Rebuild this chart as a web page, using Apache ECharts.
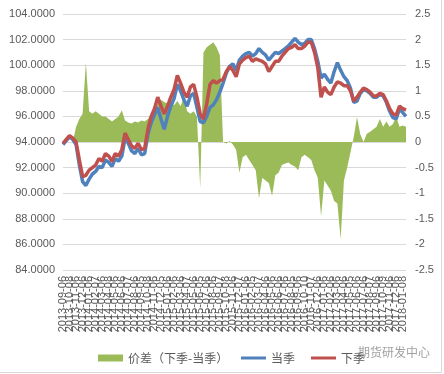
<!DOCTYPE html>
<html>
<head>
<meta charset="utf-8">
<script src="https://cdn.jsdelivr.net/npm/echarts@6/dist/echarts.min.js"></script>
<style>html,body{margin:0;padding:0;background:#fff}#c{width:444px;height:374px}</style>
</head>
<body>
<div id="c"></div>
<script>
const dates = [
"2013-09-06","2013-09-20","2013-10-08","2013-10-22","2013-11-06","2013-11-20","2013-12-06","2013-12-20",
"2014-01-06","2014-01-20","2014-02-07","2014-02-20","2014-03-06","2014-03-20","2014-04-08","2014-04-22",
"2014-05-06","2014-05-20","2014-06-06","2014-06-20","2014-07-07","2014-07-21","2014-08-06","2014-08-20",
"2014-09-05","2014-09-19","2014-10-08","2014-10-22","2014-11-06","2014-11-20","2014-12-05","2014-12-19",
"2015-01-06","2015-01-20","2015-02-06","2015-02-20","2015-03-06","2015-03-20","2015-04-07","2015-04-21",
"2015-05-06","2015-05-20","2015-06-05","2015-06-19","2015-07-06","2015-07-20","2015-08-06","2015-08-20",
"2015-09-07","2015-09-21","2015-10-08","2015-10-22","2015-11-06","2015-11-20","2015-12-07","2015-12-21",
"2016-01-06","2016-01-20","2016-02-05","2016-02-22","2016-03-07","2016-03-21","2016-04-06","2016-04-20",
"2016-05-06","2016-05-20","2016-06-06","2016-06-20","2016-07-06","2016-07-20","2016-08-05","2016-08-19",
"2016-09-06","2016-09-20","2016-10-10","2016-10-24","2016-11-07","2016-11-21","2016-12-06","2016-12-20",
"2017-01-06","2017-01-20","2017-02-06","2017-02-20","2017-03-06","2017-03-20","2017-04-06","2017-04-20",
"2017-05-05","2017-05-19","2017-06-06","2017-06-20","2017-07-06","2017-07-20","2017-08-07","2017-08-21",
"2017-09-06","2017-09-20","2017-10-09","2017-10-23","2017-11-06","2017-11-20","2017-12-06","2017-12-20",
"2018-01-08","2018-01-22"
];
const current = [
93.8,94.1,94.4,94.2,93.8,92.2,90.9,90.6,91.1,91.5,91.7,92.1,92.0,92.6,92.4,92.1,
92.7,92.5,92.9,94.3,93.9,93.3,93.1,93.5,93.0,93.1,94.6,95.5,96.1,96.7,95.8,95.0,
96.0,96.8,97.4,98.5,98.0,97.3,96.8,97.6,97.8,96.7,95.6,95.5,96.0,96.7,96.9,97.3,
97.9,98.6,99.4,99.9,100.1,99.6,100.4,100.7,100.9,101.0,100.7,100.9,101.3,101.0,100.8,100.4,
100.7,101.0,100.9,101.1,101.3,101.5,101.8,102.1,101.8,101.6,101.7,102.0,102.0,101.3,100.3,99.0,
99.3,98.9,98.6,99.5,100.2,99.6,99.1,98.8,98.2,97.1,97.2,97.8,98.1,98.0,97.8,97.5,
97.5,97.7,97.6,97.1,96.4,95.9,95.8,96.6,96.3,96.0
];
const nextQ = [
93.9,94.2,94.5,94.3,94.0,92.6,91.3,91.4,91.8,92.0,92.2,92.7,92.5,93.1,92.9,92.5,
93.1,92.9,93.4,94.7,94.2,93.7,93.5,93.9,93.4,93.5,95.0,96.0,96.6,97.5,96.8,96.2,
96.8,97.5,98.1,99.2,98.6,97.9,97.5,98.3,98.5,97.5,96.2,95.8,97.0,98.5,98.8,98.6,
98.8,98.9,99.5,99.9,99.6,99.1,100.1,100.4,100.6,100.7,100.3,100.5,100.4,100.3,100.1,99.5,
99.9,100.3,100.3,100.7,101.0,101.3,101.4,101.6,101.3,101.3,101.5,101.8,101.8,101.0,99.8,97.5,
98.3,97.9,97.7,98.3,98.7,98.6,98.4,98.4,98.0,97.2,97.5,97.9,98.2,98.1,97.9,97.6,
97.6,97.8,97.7,97.2,96.6,96.2,96.1,96.8,96.6,96.5
];
const spread = [
0,0,0,0,0.3,0.45,0.55,1.55,0.6,0.55,0.6,0.55,0.5,0.5,0.45,0.4,
0.45,0.5,0.62,0.42,0.38,0.36,0.4,0.38,0.42,0.4,0.45,0.55,0.6,0.75,0.82,0.78,
0.75,0.8,0.72,0.8,0.7,0.88,0.6,0.55,0.6,0.5,-0.9,1.75,1.85,1.9,1.95,1.85,
1.7,0.0,-0.03,0.02,-0.05,-0.15,-0.6,-0.3,-0.25,-0.35,-0.45,-0.55,-1.1,-0.7,-0.75,-0.8,
-1.05,-0.65,-0.6,-0.45,-0.42,-0.4,-0.45,-0.48,-0.55,-0.3,-0.25,-0.3,-0.35,-0.55,-0.7,-1.45,
-0.75,-0.85,-0.95,-1.15,-1.2,-1.9,-0.75,-0.5,-0.2,0.1,0.49,0.15,0.0,0.16,0.2,0.25,
0.3,0.45,0.3,0.4,0.3,0.35,0.5,0.3,0.32,0.3
];
const leftMin = 84, leftMax = 104, leftStep = 2;
const rightMin = -2.5, rightMax = 2.5, rightStep = 0.5;

const gray = '#595959';
const font = 'Liberation Sans, Arial, sans-serif';
const legendText = {color: gray, fontSize: 12, fontFamily: 'Noto Sans CJK SC, sans-serif'};
const chart = echarts.init(document.getElementById('c'), null, {renderer: 'canvas'});
const staticGraphics = [
  {type: 'text', left: 358, top: 346, silent: true,
   style: {text: '期货研发中心', fill: '#8a8a8a', font: '12px Noto Sans CJK SC', opacity: 0.8}},
  {type: 'line', silent: true, shape: {x1: 441.5, y1: 0, x2: 441.5, y2: 372.5},
   style: {stroke: '#d9d9d9', lineWidth: 1}},
  {type: 'line', silent: true, shape: {x1: 0, y1: 372.5, x2: 441.5, y2: 372.5},
   style: {stroke: '#d9d9d9', lineWidth: 1}}
];
chart.setOption({
  animation: false,
  backgroundColor: '#fff',
  grid: {left: 63, right: 38, top: 14, bottom: 104},
  legend: [
    {left: 93, top: 347, itemWidth: 25, itemHeight: 7, itemGap: 16, textStyle: legendText,
     data: [{name: '价差（下季-当季）', icon: 'rect'}]},
    {left: 236, top: 347, itemWidth: 25, itemHeight: 3, itemGap: 16, textStyle: legendText,
     data: [{name: '当季', icon: 'rect'}, {name: '下季', icon: 'rect'}]}
  ],
  xAxis: {
    type: 'category', data: dates, boundaryGap: false,
    axisLine: {lineStyle: {color: '#d9d9d9'}},
    axisTick: {show: false},
    axisLabel: {show: false}
  },
  yAxis: [
    {type: 'value', min: leftMin, max: leftMax, interval: leftStep,
     axisLine: {show: false}, axisTick: {show: false},
     splitLine: {lineStyle: {color: '#d9d9d9'}},
     axisLabel: {color: gray, fontSize: 11, fontFamily: font, formatter: v => v.toFixed(4)}},
    {type: 'value', min: rightMin, max: rightMax, interval: rightStep, position: 'right',
     axisLine: {show: false}, axisTick: {show: false}, splitLine: {show: false},
     axisLabel: {color: gray, fontSize: 11, fontFamily: font, margin: 9}}
  ],
  series: [
    {name: '价差（下季-当季）', type: 'line', yAxisIndex: 1, data: spread, showSymbol: false,
     symbol: 'none', lineStyle: {width: 0}, itemStyle: {color: '#9BBB59'},
     areaStyle: {color: '#9BBB59', opacity: 1}},
    {name: '当季', type: 'line', data: current, symbol: 'none', showSymbol: false,
     lineStyle: {width: 3.5, color: '#4F81BD'}, itemStyle: {color: '#4F81BD'}},
    {name: '下季', type: 'line', data: nextQ, symbol: 'none', showSymbol: false,
     lineStyle: {width: 3.5, color: '#C0504D'}, itemStyle: {color: '#C0504D'}}
  ],
  graphic: staticGraphics
});
// x-axis date labels: every other category, placed via the axis scale
const axisBottom = chart.convertToPixel({yAxisIndex: 0}, leftMin);
const labelEls = [];
for (let i = 0; i < dates.length; i += 2) {
  const px = chart.convertToPixel({xAxisIndex: 0}, dates[i]);
  labelEls.push({
    type: 'text', silent: true, x: px, y: axisBottom + 6, rotation: Math.PI / 2,
    style: {text: dates[i], fill: gray, font: '11px Liberation Sans, Arial, sans-serif',
            align: 'right', verticalAlign: 'middle'}
  });
}
chart.setOption({graphic: staticGraphics.concat(labelEls)}, {replaceMerge: ['graphic']});
</script>
</body>
</html>
